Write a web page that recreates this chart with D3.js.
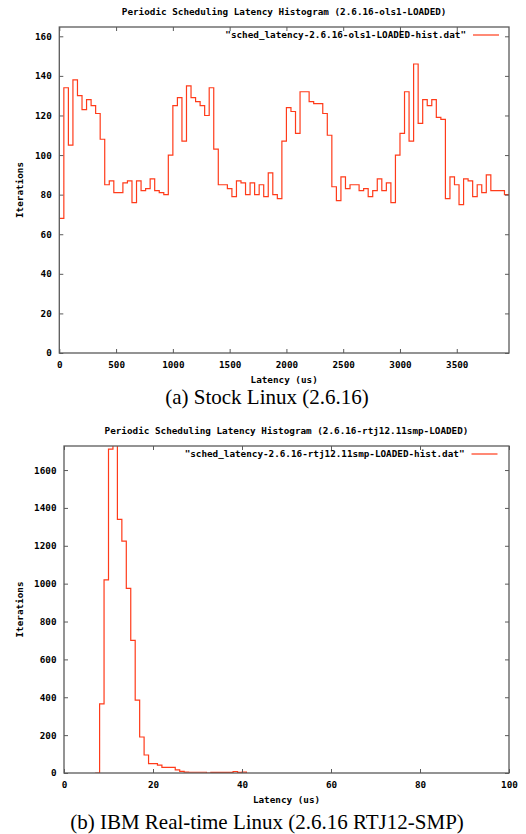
<!DOCTYPE html>
<html>
<head>
<meta charset="utf-8">
<script src="https://cdn.jsdelivr.net/npm/d3@7"></script>
<style>
body { margin: 0; background: #fff; }
svg text { font-family: "DejaVu Sans Mono", monospace; font-weight: bold; font-size: 9.3px; fill: #000; }
svg text.caption { font-family: "Liberation Serif", "Times New Roman", serif; font-weight: normal; font-size: 21px; }
</style>
</head>
<body>
<svg id="chart" width="526" height="834"></svg>
<script>

// (a) stock kernel, one count per 40 us bin, first bin starts at 0
var stockBinWidth = 40;
var stockCounts = [68, 134, 105, 138, 130, 123, 128, 125, 121, 108,
	85, 87, 81, 81, 86, 87, 76, 87, 82, 83,
	88, 82, 81, 80, 100, 125, 129, 107, 135, 129,
	127, 125, 120, 134, 103, 85, 85, 83, 79, 87,
	86, 80, 86, 80, 85, 79, 91, 80, 78, 107,
	124, 122, 111, 132, 132, 127, 126, 126, 121, 110,
	84, 77, 89, 83, 85, 85, 82, 83, 79, 82,
	88, 82, 86, 76, 100, 111, 132, 107, 146, 116,
	128, 125, 128, 119, 118, 78, 89, 85, 75, 88,
	87, 79, 85, 81, 90, 82, 82, 82, 80];
var stockXTicks = [0, 500, 1000, 1500, 2000, 2500, 3000, 3500];
var stockYTicks = [0, 20, 40, 60, 80, 100, 120, 140, 160];

// (b) rt kernel, 1 us bins
var rtLatency = [7, 8, 9, 10, 11, 12, 13, 14, 15, 16, 17, 18, 19, 20, 21, 22, 23, 24,
	25, 26, 27, 28, 29, 30, 31, 32, 33, 34, 35, 36, 37, 38, 39, 40, 41];
var rtCounts = [0, 365, 1020, 1710, 1800, 1340, 1225, 975, 700, 385, 190, 95, 50, 50, 42, 30, 30, 30,
	16, 9, 5, 4, 4, 4, 4, 0, 3, 3, 3, 3, 3, 8, 3, 5, 0];
var rtXTicks = [0, 20, 40, 60, 80, 100];
var rtYTicks = [0, 200, 400, 600, 800, 1000, 1200, 1400, 1600];

var stockTitle = 'Periodic Scheduling Latency Histogram (2.6.16-ols1-LOADED)';
var stockKey = '"sched_latency-2.6.16-ols1-LOADED-hist.dat"';
var stockCaption = '(a) Stock Linux (2.6.16)';
var rtTitle = 'Periodic Scheduling Latency Histogram (2.6.16-rtj12.11smp-LOADED)';
var rtKey = '"sched_latency-2.6.16-rtj12.11smp-LOADED-hist.dat"';
var rtCaption = '(b) IBM Real-time Linux (2.6.16 RTJ12-SMP)';

var lineColor = '#ff3b1a';
var frameColor = '#5a5a5a';


function stockPoints() {
	var pts = stockCounts.map(function(c, i) { return [i * stockBinWidth, c]; });
	// close the last bin
	pts.push([stockCounts.length * stockBinWidth, stockCounts[stockCounts.length - 1]]);
	return pts;
}


function rtPoints() {
	return rtLatency.map(function(l, i) { return [l, rtCounts[i]]; });
}


function drawPanel(svg, p) {

	var x = d3.scaleLinear().domain([0, p.xMax]).range([p.left, p.right]);
	var y = d3.scaleLinear().domain([0, p.yMax]).range([p.bottom, p.top]);
	var g = svg.append('g');
	var midX = (p.left + p.right) / 2;
	var plain = d3.format('d');

	g.append('text')
		.attr('x', midX).attr('y', p.titleY).attr('dy', '0.36em')
		.attr('text-anchor', 'middle')
		.text(p.title);

	// clip, the tallest bin of (b) runs out of the frame
	g.append('clipPath').attr('id', p.id + '_clip')
		.append('rect')
		.attr('x', p.left).attr('y', p.top)
		.attr('width', p.right - p.left).attr('height', p.bottom - p.top);

	var line = d3.line()
		.x(function(d) { return x(d[0]); })
		.y(function(d) { return y(d[1]); })
		.curve(d3.curveStepAfter);

	g.append('path')
		.datum(p.points)
		.attr('d', line)
		.attr('clip-path', 'url(#' + p.id + '_clip)')
		.attr('fill', 'none')
		.attr('stroke', lineColor)
		.attr('stroke-width', 1.2);

	// ticks point inwards on all four sides
	var axes = g.append('g').style('color', frameColor);

	axes.append('g')
		.attr('transform', 'translate(0,' + p.bottom + ')')
		.call(d3.axisBottom(x).tickValues(p.xTicks).tickFormat(plain).tickSize(-4).tickPadding(8.2));
	axes.append('g')
		.attr('transform', 'translate(0,' + p.top + ')')
		.call(d3.axisTop(x).tickValues(p.xTicks).tickSize(-4).tickFormat(''));
	axes.append('g')
		.attr('transform', 'translate(' + p.left + ',0)')
		.call(d3.axisLeft(y).tickValues(p.yTicks).tickFormat(plain).tickSize(-4).tickPadding(7.5));
	axes.append('g')
		.attr('transform', 'translate(' + p.right + ',0)')
		.call(d3.axisRight(y).tickValues(p.yTicks).tickSize(-4).tickFormat(''));

	axes.selectAll('.domain').remove();
	axes.selectAll('.tick line').attr('stroke-width', 1);

	g.append('rect')
		.attr('x', p.left).attr('y', p.top)
		.attr('width', p.right - p.left).attr('height', p.bottom - p.top)
		.attr('fill', 'none')
		.attr('stroke', frameColor)
		.attr('stroke-width', 1.3);

	// key, top right corner
	g.append('text')
		.attr('x', p.keyX).attr('y', p.keyY).attr('dy', '0.36em')
		.attr('text-anchor', 'end')
		.text(p.key);
	g.append('line')
		.attr('x1', p.keyX + 7).attr('x2', p.keyX + 33)
		.attr('y1', p.keyY).attr('y2', p.keyY)
		.attr('stroke', lineColor)
		.attr('stroke-width', 1.2);

	g.append('text')
		.attr('transform', 'translate(20,' + ((p.top + p.bottom) / 2) + ') rotate(-90)')
		.attr('dy', '0.36em')
		.attr('text-anchor', 'middle')
		.text('Iterations');

	g.append('text')
		.attr('x', midX).attr('y', p.bottom + 27).attr('dy', '0.36em')
		.attr('text-anchor', 'middle')
		.text('Latency (us)');

	g.append('text')
		.attr('class', 'caption')
		.attr('x', 267).attr('y', p.captionY).attr('dy', '0.35em')
		.attr('text-anchor', 'middle')
		.text(p.caption);
}


var svg = d3.select('#chart');

drawPanel(svg, {
	id: 'stock',
	left: 59.3, right: 509, top: 27, bottom: 353,
	xMax: 3960, yMax: 164.7,
	xTicks: stockXTicks, yTicks: stockYTicks,
	points: stockPoints(),
	title: stockTitle, titleY: 12,
	key: stockKey, keyX: 466, keyY: 35,
	caption: stockCaption, captionY: 397
});

drawPanel(svg, {
	id: 'rt',
	left: 64, right: 509, top: 446, bottom: 773,
	xMax: 100, yMax: 1727,
	xTicks: rtXTicks, yTicks: rtYTicks,
	points: rtPoints(),
	title: rtTitle, titleY: 431,
	key: rtKey, keyX: 464.5, keyY: 454,
	caption: rtCaption, captionY: 822
});

</script>
</body>
</html>
